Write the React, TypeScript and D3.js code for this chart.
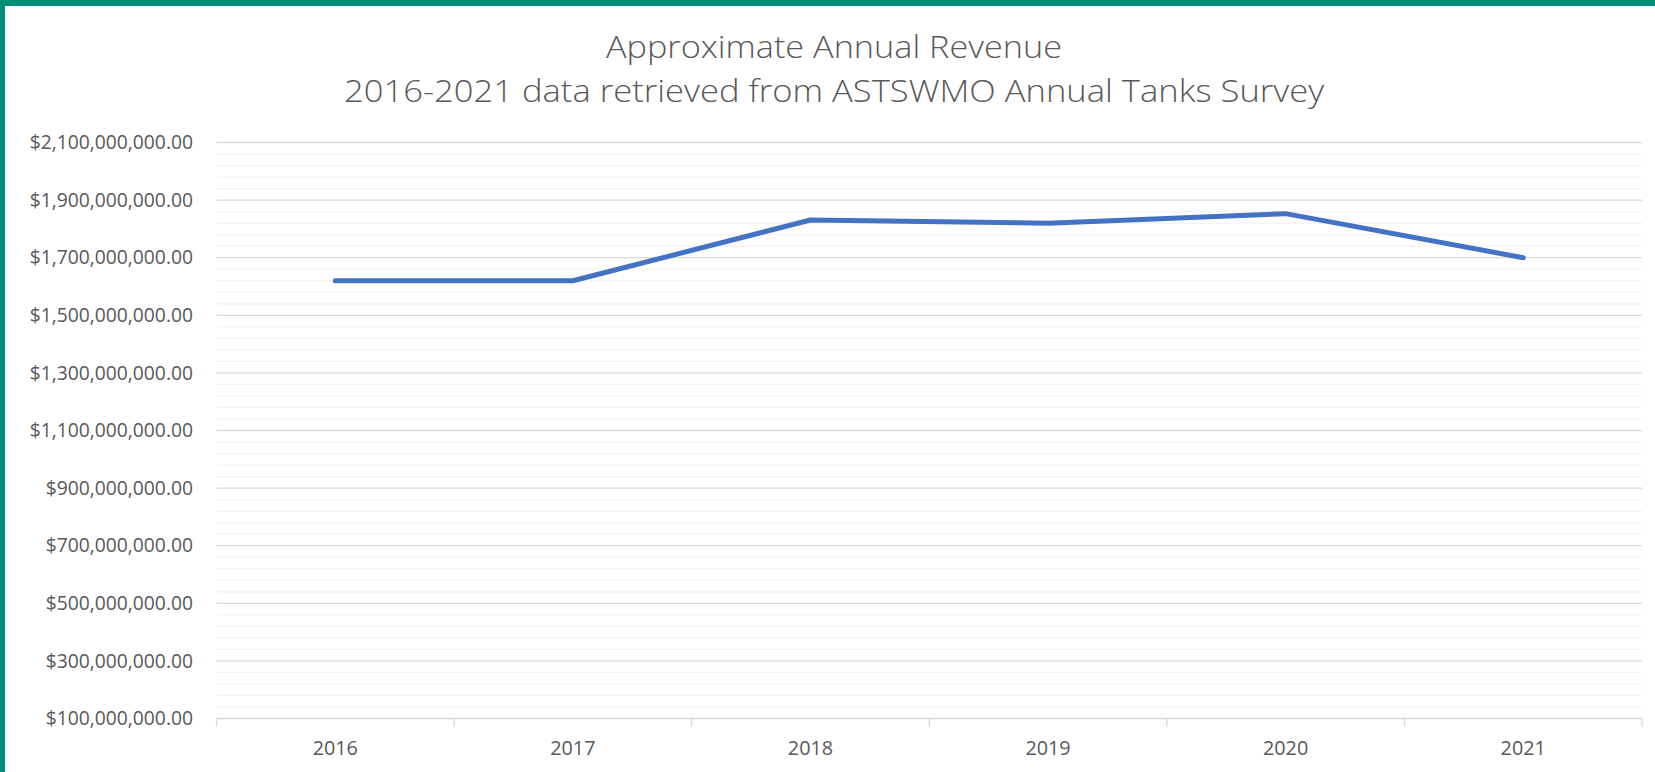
import React from "react";
import * as d3 from "d3";

const years = ["2016", "2017", "2018", "2019", "2020", "2021"];
const revenue = [1620000000, 1620000000, 1831000000, 1820000000, 1853000000, 1700000000];
const majorTicks = [100e6, 300e6, 500e6, 700e6, 900e6, 1100e6, 1300e6, 1500e6, 1700e6, 1900e6, 2100e6];
const titleLines = [
  "Approximate Annual Revenue",
  "2016-2021 data retrieved from ASTSWMO Annual Tanks Survey",
];

const W = 1655;
const H = 772;
const left = 216.5;
const right = 1642;
const top = 142.5;
const bottom = 718.5;
const textColor = "#595959";
const font = "'Open Sans', 'Liberation Sans', sans-serif";

export default function App() {
  const x = d3.scaleBand<string>().domain(years).range([left, right]).padding(0);
  const y = d3.scaleLinear().domain([100e6, 2100e6]).range([bottom, top]);
  const minorTicks = d3.range(100e6, 2100e6 + 1, 40e6).filter((v) => (v - 100e6) % 200e6 !== 0);
  const fmt = (v: number) => "$" + d3.format(",.2f")(v);
  const line = d3
    .line<number>()
    .x((_, i) => (x(years[i]) as number) + x.bandwidth() / 2)
    .y((d) => y(d));
  const boundaries = years.map((yr) => x(yr) as number).concat([right]);

  return (
    <svg width={W} height={H} style={{ position: "absolute", left: 0, top: 0, background: "#fff" }}>
      <rect x={0} y={0} width={W} height={H} fill="#fff" />
      {minorTicks.map((v) => (
        <line key={"m" + v} x1={left} x2={right} y1={y(v)} y2={y(v)} stroke="#f2f2f2" strokeWidth={1.2} />
      ))}
      {majorTicks.map((v) => (
        <line key={"M" + v} x1={left} x2={right} y1={y(v)} y2={y(v)} stroke="#d9d9d9" strokeWidth={1.3} />
      ))}
      {boundaries.map((b, i) => (
        <line key={"t" + i} x1={b} x2={b} y1={bottom} y2={bottom + 8} stroke="#d9d9d9" strokeWidth={1.3} />
      ))}
      {majorTicks.map((v) => (
        <text
          key={"l" + v}
          x={193}
          y={y(v)}
          dy="0.35em"
          textAnchor="end"
          fontFamily={font}
          fontSize={19.3}
          fill={textColor}
        >
          {fmt(v)}
        </text>
      ))}
      {years.map((yr) => (
        <text
          key={"x" + yr}
          x={(x(yr) as number) + x.bandwidth() / 2}
          y={755}
          textAnchor="middle"
          fontFamily={font}
          fontSize={19.8}
          fill={textColor}
        >
          {yr}
        </text>
      ))}
      <path
        d={line(revenue) || ""}
        fill="none"
        stroke="#4472C4"
        strokeWidth={5}
        strokeLinecap="round"
        strokeLinejoin="round"
      />
      <text x={606} y={57.5} fontFamily={font} fontWeight={300} fontSize={32} fill={textColor} textLength={456} lengthAdjust="spacingAndGlyphs">
        {titleLines[0]}
      </text>
      <text x={344} y={101.7} fontFamily={font} fontWeight={300} fontSize={32} fill={textColor} textLength={980} lengthAdjust="spacingAndGlyphs">
        {titleLines[1]}
      </text>
      <rect x={0} y={0} width={W} height={6} fill="#058C76" />
      <rect x={0} y={0} width={5} height={H} fill="#058C76" />
    </svg>
  );
}
